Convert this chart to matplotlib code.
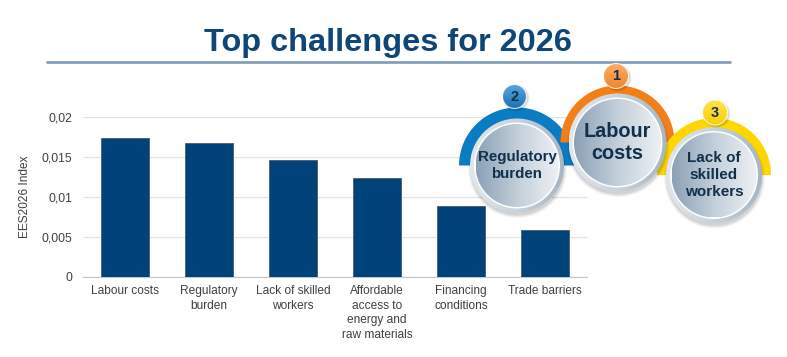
import numpy as np
import matplotlib
matplotlib.use("Agg")
import matplotlib.pyplot as plt
from matplotlib.patches import Circle, Wedge
from matplotlib.colors import LinearSegmentedColormap

# ---------------- data ----------------
categories = ["Labour costs", "Regulatory\nburden", "Lack of skilled\nworkers",
              "Affordable\naccess to\nenergy and\nraw materials", "Financing\nconditions",
              "Trade barriers"]
values = [0.01738, 0.01668, 0.01463, 0.0123, 0.0088, 0.0058]
yticks = [0, 0.005, 0.01, 0.015, 0.02]
ytick_labels = ["0", "0,005", "0,01", "0,015", "0,02"]
title = "Top challenges for 2026"
ylabel = "EES2026 Index"

podium_labels = ["Regulatory\nburden", "Labour\ncosts", "Lack of\nskilled\nworkers"]
podium_ranks = ["2", "1", "3"]

plt.rcParams['font.family'] = ['Liberation Sans', 'DejaVu Sans']

W, H = 787, 357
fig = plt.figure(figsize=(W / 100, H / 100), dpi=100)
fig.patch.set_facecolor("white")

# ---------------- bar chart ----------------
ax = fig.add_axes([83 / W, (H - 276.7) / H, 504 / W, 160 / H])
x = np.arange(len(categories))
ax.bar(x, values, width=0.56, color="#00427A", edgecolor="#4d5a66", linewidth=0.6, zorder=3)
ax.set_xlim(-0.5, len(categories) - 0.5)
ax.set_ylim(0, 0.02)
ax.set_yticks(yticks)
ax.set_yticklabels(ytick_labels)
ax.set_xticks(x)
ax.set_xticklabels(categories, fontsize=8.6, color="#404040", linespacing=1.28)
ax.tick_params(axis="y", length=0, pad=8, labelsize=8.8, labelcolor="#404040")
ax.tick_params(axis="x", length=0, pad=6)
ax.grid(axis="y", color="#e2e2e2", linewidth=0.9, zorder=0)
for s in ["top", "right", "left"]:
    ax.spines[s].set_visible(False)
ax.spines["bottom"].set_color("#c8c8c8")
ax.spines["bottom"].set_linewidth(0.9)
ax.set_ylabel(ylabel, fontsize=8.6, color="#404040", labelpad=7)

# ---------------- title ----------------
fig.text(387.5 / W, 1 - 51 / H, title, ha="center", va="baseline",
         fontsize=23.4, fontweight="bold", color="#0e4677")

# ---------------- overlay (pixel coordinates) ----------------
ov = fig.add_axes([0, 0, 1, 1], facecolor="none")
ov.set_xlim(0, W)
ov.set_ylim(H, 0)
ov.axis("off")

ov.plot([46, 731], [62, 62], color="#7d9cba", linewidth=1.9, solid_capstyle="butt")

grad = np.linspace(0, 1, 256).reshape(1, -1)
disc_cmap = LinearSegmentedColormap.from_list("disc", ["#8ba1b6", "#c3cfda", "#eef1f4"])
ring_cmap = LinearSegmentedColormap.from_list("ring", ["#e2e7ec", "#c9d3dc", "#a5b6c5"])


def grad_circle(cx, cy, r, cmap, z):
    clip = Circle((cx, cy), r, transform=ov.transData, facecolor="none", edgecolor="none")
    ov.add_patch(clip)
    im = ov.imshow(grad, cmap=cmap, extent=[cx - r, cx + r, cy + r, cy - r],
                   aspect="auto", zorder=z, interpolation="bilinear")
    im.set_clip_path(clip)


podium = [
    # cx, cy, r, arc outer radius, arc color, badge (x, y, r), badge colors, font size
    (517.0, 165.5, 47.0, 58.0, "#0a7dc2", (514.5, 96.5, 12.0), ("#5aa7dc", "#1f72b5"), 10.9),
    (617.5, 142.5, 49.0, 57.0, "#f57f17", (616.0, 76.0, 12.5), ("#fbb066", "#f0862a"), 14.3),
    (714.0, 175.0, 48.0, 57.0, "#ffd600", (715.0, 112.5, 12.5), ("#ffe44d", "#f7cf00"), 11.0),
]
linesp = [1.3, 1.25, 1.3]

# arcs first
for (cx, cy, r, ro, col, b, bc, fs) in podium:
    ov.add_patch(Wedge((cx, cy), ro, 180, 360, width=ro - r + 2, facecolor=col,
                       edgecolor="none", zorder=2))

for i, (cx, cy, r, ro, col, b, bc, fs) in enumerate(podium):
    z = 4
    # shadow
    for k, a in enumerate([0.04, 0.06, 0.08]):
        ov.add_patch(Circle((cx + 0.5, cy + 3), r + 2.5 - k * 1.2, facecolor="#000000",
                            alpha=a, edgecolor="none", zorder=z))
    grad_circle(cx, cy, r, ring_cmap, z + 0.1)
    ov.add_patch(Circle((cx, cy), r - 4.0, facecolor="white", edgecolor="none", zorder=z + 0.2))
    grad_circle(cx, cy, r - 5.5, disc_cmap, z + 0.3)
    ov.text(cx, cy, podium_labels[i], ha="center", va="center", fontsize=fs,
            fontweight="bold", color="#10304c", linespacing=linesp[i], zorder=z + 0.5)

    # badge
    bx, by, br = b
    for k, a in enumerate([0.06, 0.09]):
        ov.add_patch(Circle((bx + 1.5, by + 1.5), br + 1.5 - k, facecolor="#000000",
                            alpha=a, edgecolor="none", zorder=z + 0.6))
    bcmap = LinearSegmentedColormap.from_list("b%d" % i, [bc[0], bc[1]])
    clip = Circle((bx, by), br, transform=ov.transData, facecolor="none", edgecolor="none")
    ov.add_patch(clip)
    vgrad = np.linspace(0, 1, 64).reshape(-1, 1)
    im = ov.imshow(vgrad, cmap=bcmap, extent=[bx - br, bx + br, by + br, by - br],
                   aspect="auto", zorder=z + 0.7, interpolation="bilinear")
    im.set_clip_path(clip)
    ov.add_patch(Circle((bx, by), br, facecolor="none", edgecolor="white", linewidth=0.8,
                        alpha=0.8, zorder=z + 0.75))
    ov.text(bx, by + 0.5, podium_ranks[i], ha="center", va="center", fontsize=10.5,
            fontweight="bold", color="#10304c", zorder=z + 0.8)

ov.set_xlim(0, W)
ov.set_ylim(H, 0)

fig.savefig("out.png", dpi=100, facecolor="white")
